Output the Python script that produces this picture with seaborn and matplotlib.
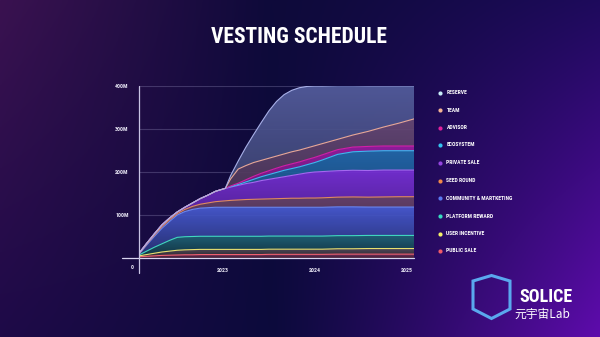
import numpy as np
import pandas as pd
import matplotlib
matplotlib.use("Agg")
import matplotlib.pyplot as plt
import seaborn as sns
from matplotlib.colors import to_rgb
from matplotlib import font_manager as fm
from matplotlib.patches import Polygon

# ---------------- data (millions of tokens unlocked, per allocation) ----------------
months = [0, 1, 2, 3, 4, 5, 6, 7, 8, 9, 10, 11.3, 12, 13, 14, 15, 16, 17, 18, 19, 20,
          21, 22, 23, 24, 26, 28, 30, 32, 34, 36]
public_sale = [3, 4, 5, 6, 6.5, 7, 7.5, 7.5, 8, 8, 8, 8, 8, 8, 8, 8, 8,
               8.5, 8.5, 8.5, 8.5, 8.5, 8.5, 8.5, 8.5, 9, 9, 9, 9, 9, 9]
user_incentive = [2, 4, 6, 8, 9.5, 11, 11.5, 12, 12, 12, 12,
                  12, 12, 12, 12, 12, 12, 12, 12, 12, 12, 12, 12, 12, 12,
                  12.5, 12.5, 13, 13, 13, 13]
platform_reward = [2, 8, 14, 19, 25, 30] + [30.5] * 25
community = [2, 14, 25, 36, 44, 52, 58.5, 63, 65.5, 66.5, 67.5,
             67.5, 67.5, 67.5, 67.5, 67.5, 67.5,
             67, 67, 67, 67, 67, 67, 67, 67, 67, 67, 66, 66, 66, 66]
seed_round = [1, 2, 3, 4, 4, 3, 5, 7, 9, 11, 13,
              15, 16, 17, 18, 18.5, 19, 19.5, 20, 20.5, 21, 21, 21.5, 21.5, 22,
              22.5, 23, 23, 23.5, 24, 24]
private_sale = [1, 2, 3, 4, 4, 4, 5, 8, 13, 18, 24, 29,
                31, 34, 37, 39.5, 43, 45.5, 48, 50.5, 53, 56, 58.5, 60.5, 61,
                61.5, 62, 62, 62.5, 62, 62]
ecosystem = [0] * 12 + [1, 2, 4, 7, 9, 11, 13, 15, 16, 17, 19, 22, 27, 38, 43, 45, 45, 45, 45]
advisor = [0] * 12 + [1.5, 3, 5, 7, 8, 9, 10, 10.5, 11, 11.5, 12, 12, 12, 11, 11, 11, 11, 11, 11]
team = [0] * 12 + [16.5, 33, 33, 32, 30, 29, 28, 27.5, 28, 27.5, 27, 27, 26, 24, 28, 35, 44, 53, 63]
reserve = [0] * 12 + [8, 19, 43, 65, 88, 110, 127, 138, 143, 145, 143, 139, 134, 125, 115, 106, 96, 87, 77]

series_names = ["PUBLIC SALE", "USER INCENTIVE", "PLATFORM REWARD", "COMMUNITY & MARTKETING",
                "SEED ROUND", "PRIVATE SALE", "ECOSYSTEM", "ADVISOR", "TEAM", "RESERVE"]
series_values = [public_sale, user_incentive, platform_reward, community, seed_round,
                 private_sale, ecosystem, advisor, team, reserve]

y_ticks = [100, 200, 300, 400]
y_tick_labels = ["100M", "200M", "300M", "400M"]
x_ticks = [11, 23, 35]
x_tick_labels = ["2023", "2024", "2025"]

# ---------------- styles ----------------
fill_colors = ["#6a3052", "#4c4650", "#1d5a6c", "#4152bd", "#5e3c60",
               "#6a2bbe", "#1f5e98", "#871b8e", "#5b4168", "#4b538c"]
line_colors = ["#f06070", "#e8e070", "#40d8c0", "#6a86f0", "#e08a60",
               "#a468f0", "#40b8f0", "#d020a8", "#e8a898", "#a8b0e8"]
dot_colors = ["#f05a68", "#f4f068", "#36dcc0", "#5a78f0", "#f08848",
              "#9444e0", "#34c4f0", "#e0209c", "#f4b494", "#c8eef8"]

sns.set_theme(style="dark")
names = {f.name for f in fm.fontManager.ttflist}
cond_fams = [n for n in ["Liberation Sans Narrow", "Roboto Condensed", "Open Sans Condensed",
                         "DejaVu Sans Condensed", "Noto Sans Condensed"] if n in names]
COND = cond_fams + ["DejaVu Sans"]
plt.rcParams["font.family"] = COND
STRETCH = "condensed"

W, H = 600, 337
fig = plt.figure(figsize=(W / 100, H / 100), dpi=100)

# ---------------- background gradient ----------------
bg = fig.add_axes([0, 0, 1, 1])
bg.set_xlim(0, W)
bg.set_ylim(H, 0)
bg.axis("off")
xs = np.linspace(0, 1, 300)[None, :, None]
ys = np.linspace(0, 1, 170)[:, None, None]
L = (1 - ys) * np.array(to_rgb("#3a1250")) + ys * np.array(to_rgb("#1e0a48"))
M = (1 - ys) * np.array(to_rgb("#0e0a3a")) + ys * np.array(to_rgb("#0c0a3c"))
R = (1 - ys) * np.array(to_rgb("#1e0a5c")) + ys * np.array(to_rgb("#5e0cac"))
t1 = np.clip(xs / 0.45, 0, 1)
t2 = np.clip((xs - 0.45) / 0.55, 0, 1)
img = np.where(xs < 0.45, L * (1 - t1) + M * t1, M * (1 - t2 ** 1.2) + R * t2 ** 1.2)
bg.imshow(img, extent=[0, W, H, 0], aspect="auto", zorder=0)

# title
bg.text(299, 37, "VESTING SCHEDULE", color="white", fontsize=15.5, fontweight="bold",
        fontstretch=STRETCH, ha="center", va="center", family=COND, zorder=3)

# legend (manual)
leg_names = series_names[::-1]
leg_dots = dot_colors[::-1]
leg_y = [92.5, 110, 127.5, 145, 163, 180.5, 198, 216, 233.5, 251]
for name, c, yy in zip(leg_names, leg_dots, leg_y):
    bg.scatter([439.5], [yy], s=9, color=c, zorder=3, linewidths=0)
    bg.text(446.5, yy, name, color="white", fontsize=4.1, fontweight="bold",
            fontstretch=STRETCH, ha="left", va="center", family=COND, zorder=3)

# logo shield + watermark text
shield = Polygon([[473, 281], [491.5, 275.5], [510, 281], [510, 309], [491.5, 318.5], [473, 309]],
                 closed=True, fill=False, edgecolor="#5aa8ee", lw=2.2, zorder=3)
bg.add_patch(shield)
bg.text(546, 297, "SOLICE", color="white", fontsize=13, fontweight="bold",
        fontstretch=STRETCH, ha="center", va="center", family=COND, zorder=3)
bg.text(542, 314, "元宇宙Lab", color="white", fontsize=8.5, ha="center", va="center",
        family=["Noto Sans CJK SC", "DejaVu Sans"], zorder=4)

# ---------------- main chart ----------------
x0, x1, ytop, ybot = 139, 414, 86, 258
ax = fig.add_axes([x0 / W, (H - ybot) / H, (x1 - x0) / W, (ybot - ytop) / H])
ax.set_facecolor("none")
for s in ax.spines.values():
    s.set_visible(False)

df = pd.DataFrame({"month": months})
for n, v in zip(series_names, series_values):
    df[n] = v

for yv in y_ticks:
    ax.axhline(yv, color="#b8b4e0", alpha=0.25, lw=0.8, zorder=1)

polys = ax.stackplot(df["month"], *[df[n] for n in series_names], colors=fill_colors,
                     alpha=0.0, linewidth=0, zorder=2)
cum = df[series_names].cumsum(axis=1)

# vertical gradient inside each stacked band (lighter near its top edge)
ax.set_xlim(0, 36)
ax.set_ylim(0, 400)
prev = np.zeros(len(df))
for poly, n, fc in zip(polys, series_names, fill_colors):
    top = cum[n].to_numpy()
    lo, hi = prev.min(), top.max()
    if hi - lo < 1:
        hi = lo + 1
    base = np.array(to_rgb(fc))
    g = np.linspace(0, 1, 64)[:, None]
    col = base[None, :] * (0.62 + 0.5 * g)
    col = np.clip(col, 0, 1)
    rgba = np.concatenate([col, np.full((64, 1), 0.93)], axis=1)[:, None, :]
    im = ax.imshow(rgba, extent=[0, 36, lo, hi], origin="lower", aspect="auto",
                   zorder=2, interpolation="bilinear")
    im.set_clip_path(poly.get_paths()[0], transform=ax.transData)
    prev = top

for n, lc in zip(series_names, line_colors):
    sns.lineplot(x=df["month"], y=cum[n], ax=ax, color=lc, lw=0.8, zorder=3, legend=False)

ax.plot([-0.063, 1.0], [0, 0], transform=ax.transAxes, color="#d8d4f0", lw=0.9,
        clip_on=False, zorder=4)
ax.plot([0, 0], [-0.087, 1.0], transform=ax.transAxes, color="#c8c4e4", lw=0.9,
        clip_on=False, zorder=4)

ax.set_xlim(0, 36)
ax.set_ylim(0, 400)
ax.set_xticks(x_ticks)
ax.set_xticklabels(x_tick_labels)
ax.set_yticks(y_ticks)
ax.set_yticklabels(y_tick_labels)
ax.set_xlabel("")
ax.set_ylabel("")
ax.grid(False)
ax.tick_params(axis="both", length=0, colors="#e8e6f4", labelsize=4.2)
ax.tick_params(axis="y", pad=7.5)
ax.tick_params(axis="x", pad=7)
for lab in ax.get_xticklabels() + ax.get_yticklabels():
    lab.set_fontweight("bold")
    lab.set_fontstretch(STRETCH)
    lab.set_family(COND)
ax.text(-0.025, -0.055, "0", transform=ax.transAxes, color="#e8e6f4", fontsize=4.2,
        fontweight="bold", ha="center", va="center", family=COND)

fig.savefig("out.png", dpi=100)
